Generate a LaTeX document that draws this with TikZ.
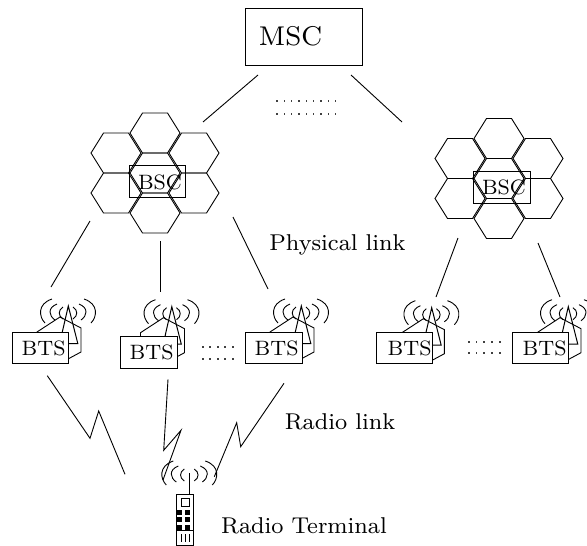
\documentclass[tikz,border=0pt]{standalone}
\usetikzlibrary{shapes.geometric}
\tikzset{
  x=1pt,y=-1pt,
  ln/.style={line width=0.9pt,line join=miter,black},
  lbl/.style={inner sep=0pt,outer sep=0pt,anchor=center,font=\fontsize{8}{9.6}\selectfont},
  boxlbl/.style={lbl,scale=2.6},
  biglbl/.style={lbl,scale=2.86},
  boxnode/.style={draw,line width=1.2pt,fill=white,inner sep=0pt,anchor=north west},
  pics/dot/.style={code={\fill[black!75] (-0.8,-0.8) rectangle (0.8,0.8);}},
  pics/hexcell/.style={code={\draw[ln] (-25,0)--(-12.5,-20)--(12.5,-20)--(25,0)--(12.5,20)--(-12.5,20)--cycle;}},
  pics/cluster/.style={code={
    \foreach \p in {(0,0),(-39,20),(39,20),(0,40),(-39,60),(39,60),(0,80)} \pic at \p {hexcell};
  }},
  pics/waveside/.style={code={
    \draw[ln] (-5,-3) .. controls (-10,0) and (-10,6) .. (-5,9);
    \draw[ln] (-11,-6) .. controls (-21,-2) and (-19,6) .. (-13,10);
    \draw[ln] (-16,-11) .. controls (-31,-6) and (-29,7) .. (-23,13);
  }},
  pics/waves/.style={code={
    \pic at (0,0) {waveside};
    \pic[xscale=-1] at (0,0) {waveside};
  }},
  pics/antenna/.style={code={
    \pic at (68,310) {waves};
    \draw[ln] (37,340)--(37,332)--(60,317)--(81,328)--(81,352)--(68,359);
    \draw[ln,line width=1pt] (60,343.5)--(62.3,332)--(68.3,306)--(77.8,343.5)--(60,343.5);
  }},
}
\begin{document}
\begin{tikzpicture}
\useasboundingbox (0,0) rectangle (587,546);
% MSC
\node[boxnode,minimum width=117pt,minimum height=57pt] (msc) at (245,8) {};
\node[lbl,scale=3.39] (msclabel) at (290.5,36) {MSC};
\coordinate (m1a) at (258,75); \coordinate (m1b) at (203,122);
\coordinate (m2a) at (351,75); \coordinate (m2b) at (402,122);
\draw[ln] (m1a)--(m1b);
\draw[ln] (m2a)--(m2b);
\foreach \i in {0,...,8}{
  \pic at (277+7.33*\i,101) {dot};
  \pic at (277+7.33*\i,114) {dot};
}
% clusters
\pic at (155,133) {cluster};
\pic at (499,138.5) {cluster};
\node[boxnode,minimum width=56pt,minimum height=32pt,fill=none] (bsc1) at (129,165) {};
\node[boxnode,minimum width=56.5pt,minimum height=31.5pt,fill=none] (bsc2) at (473,171) {};
\node[boxlbl] (bsc1t) at (160,182) {BSC};
\node[boxlbl] (bsc2t) at (504,187.5) {BSC};
% physical links
\coordinate (p1a) at (90,221); \coordinate (p1b) at (51,287);
\coordinate (p2a) at (160,241); \coordinate (p2b) at (160,292);
\coordinate (p3a) at (233,217); \coordinate (p3b) at (268,289);
\coordinate (p4a) at (458,238); \coordinate (p4b) at (436,297);
\coordinate (p5a) at (538,243); \coordinate (p5b) at (560,297);
\foreach \i in {1,...,5} \draw[ln] (p\i a)--(p\i b);
% antennas and BTS
\pic at (0,0) {antenna};
\pic at (103.5,0.7) {antenna};
\pic at (233,0) {antenna};
\pic at (363.4,1.7) {antenna};
\pic at (500,0.7) {antenna};
\node[boxnode,minimum width=56pt,minimum height=31pt] (b1) at (12,332) {};
\node[boxnode,minimum width=57pt,minimum height=32pt] (b2) at (120,336) {};
\node[boxnode,minimum width=57pt,minimum height=31pt] (b3) at (245,332) {};
\node[boxnode,minimum width=56pt,minimum height=31pt] (b4) at (376,332) {};
\node[boxnode,minimum width=56pt,minimum height=31pt] (b5) at (512,332) {};
\node[boxlbl] (b1t) at ([xshift=3pt]b1.center) {BTS};
\node[boxlbl] (b2t) at ([xshift=2.5pt]b2.center) {BTS};
\node[boxlbl] (b3t) at ([xshift=2.5pt]b3.center) {BTS};
\node[boxlbl] (b4t) at ([xshift=5pt]b4.center) {BTS};
\node[boxlbl] (b5t) at ([xshift=4pt]b5.center) {BTS};
\foreach \i in {0,...,4}{
  \pic at (202.7+7.5*\i,347) {dot};
  \pic at (202.7+7.5*\i,359) {dot};
  \pic at (468.7+7.75*\i,342) {dot};
  \pic at (468.7+7.75*\i,353) {dot};
}
% radio links
\coordinate (z1a) at (47.3,375.7); \coordinate (z1b) at (90,438.3); \coordinate (z1c) at (98.7,411); \coordinate (z1d) at (125,474.3);
\coordinate (z2a) at (168,379.3); \coordinate (z2b) at (163.7,450.3); \coordinate (z2c) at (181,430.3); \coordinate (z2d) at (163,480);
\coordinate (z3a) at (284,383.3); \coordinate (z3b) at (240.7,446.7); \coordinate (z3c) at (236.7,422.7); \coordinate (z3d) at (214.3,476.7);
\foreach \i in {1,2,3} \draw[ln] (z\i a)--(z\i b)--(z\i c)--(z\i d);
% terminal
\pic at (189.3,472) {waves};
\draw[ln] (189.3,473)--(189.3,494);
\draw[ln] (176,494) rectangle (193.7,545.3);
\draw[ln] (181,498.3) rectangle (189.3,506);
\foreach \y in {509.5,517.3,525}{
  \fill (176,\y) rectangle (181.7,\y+5);
  \fill (185,\y) rectangle (190,\y+5);
}
\draw[ln] (176,530)--(193.7,530);
\foreach \x in {181,185,189} \draw[ln,line width=0.6pt] (\x,534.3)--(\x,541.7);
% labels
\node[biglbl] (phys) at (337.5,245) {Physical link};
\node[biglbl] (rad) at (340,422) {Radio link};
\node[biglbl] (term) at (304,526) {Radio Terminal};
\end{tikzpicture}
\end{document}
